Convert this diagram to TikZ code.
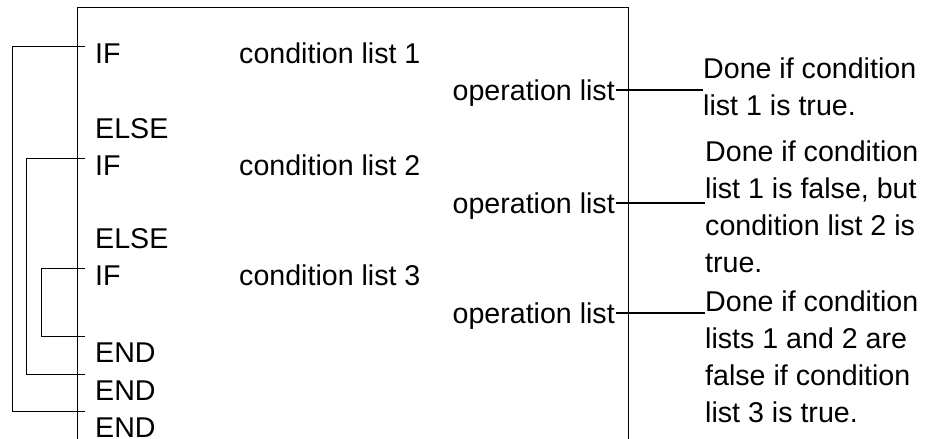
\documentclass[tikz,border=0pt]{standalone}
\usepackage{fontspec}
\setmainfont{Liberation Sans}
\begin{document}
\begin{tikzpicture}[x=1pt,y=-1pt,
    every node/.style={font=\fontsize{28.6}{36.7}\selectfont, inner sep=0pt},
    kw/.style={anchor=base west, inner xsep=10pt},
    kwif/.style={kw, inner ysep=-3pt},
    kwend/.style={kw, inner ysep=6pt},
    txt/.style={anchor=base west},
    op/.style={anchor=base east, text depth=0pt, inner xsep=1pt},
    done/.style={anchor=base west, align=left},
    thin/.style={line width=0.8pt},
    link/.style={line width=2pt}]
      \useasboundingbox (0,0) rectangle (935,439);
      %\draw [help lines] (0,0) grid (935,439);
      % the box, open at the bottom
      \draw[thin] (77,439) |- (628,7) -- (628,439);

      \node[kwif] (if1) at (85,63) {IF};
      \node[kw] (else1) at (85,138) {ELSE};
      \node[kwif] (if2) at (85,175) {IF};
      \node[kw] (else2) at (85,248) {ELSE};
      \node[kwif] (if3) at (85,285) {IF};
      \node[kwend] (end1) at (85,362) {END};
      \node[kwend] (end2) at (85,400) {END};
      \node[kwend] (end3) at (85,437) {END};

      \node[txt] (cond1) at (239,63) {condition list 1};
      \node[txt] (cond2) at (239,175) {condition list 2};
      \node[txt] (cond3) at (239,285) {condition list 3};

      \node[op] (op1) at (616,100) {operation list};
      \node[op] (op2) at (616,213) {operation list};
      \node[op] (op3) at (616,323) {operation list};

      % base = last line of each note
      \node[done] (done1) at (703,115) {Done if condition\\list 1 is true.};
      \node[done] (done2) at (705,272) {Done if condition\\list 1 is false, but\\condition list 2 is\\true.};
      \node[done] (done3) at (705,422) {Done if condition\\lists 1 and 2 are\\false if condition\\list 3 is true.};

      % nesting brackets
      \draw[thin] (if1.north west) -- ++(-73,0) |- (end3.north west);
      \draw[thin] (if2.north west) -- ++(-59,0) |- (end2.north west);
      \draw[thin] (if3.north west) -- ++(-44,0) |- (end1.north west);

      \draw[link] (op1.east) -- (op1.east -| done1.west);
      \draw[link] (op2.east) -- (op2.east -| done2.west);
      \draw[link] (op3.east) -- (op3.east -| done3.west);
    \end{tikzpicture}
\end{document}
